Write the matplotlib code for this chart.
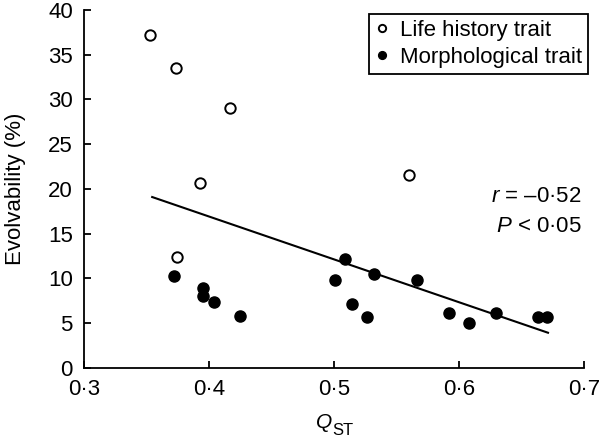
import matplotlib
matplotlib.use("Agg")
import matplotlib.pyplot as plt
from matplotlib.ticker import FuncFormatter

plt.rcParams["font.family"] = ["Liberation Sans", "DejaVu Sans"]
plt.rcParams["mathtext.fontset"] = "custom"
plt.rcParams["mathtext.it"] = "Liberation Sans:italic"
plt.rcParams["mathtext.rm"] = "Liberation Sans"

# life history traits (open circles)
life_qst = [0.353, 0.3735, 0.4166, 0.3924, 0.374, 0.5598]
life_evol = [37.2, 33.5, 29.0, 20.7, 12.4, 21.6]

# morphological traits (filled circles)
morph_qst = [0.372, 0.395, 0.395, 0.404, 0.425, 0.501, 0.5085, 0.514, 0.526,
             0.5316, 0.5665, 0.592, 0.608, 0.629, 0.663, 0.670]
morph_evol = [10.3, 8.9, 8.0, 7.4, 5.8, 9.8, 12.2, 7.1, 5.65,
              10.5, 9.8, 6.2, 5.05, 6.2, 5.7, 5.7]

# regression line end points
fit_qst = [0.3545, 0.6709]
fit_evol = [19.1, 3.94]

fig = plt.figure(figsize=(6, 4.41), dpi=100)
ax = fig.add_axes([0.14, 0.1655, 0.834, 0.812])

ax.plot(fit_qst, fit_evol, color="black", lw=1.5, zorder=1)
ax.plot(life_qst, life_evol, "o", ms=7.5, mfc="white", mec="black", mew=1.4,
        label="Life history trait", zorder=2)
ax.plot(morph_qst, morph_evol, "o", ms=8, mfc="black", mec="black",
        label="Morphological trait", zorder=2)

ax.set_xlim(0.3, 0.7)
ax.set_ylim(0, 40)
ax.set_xticks([0.3, 0.4, 0.5, 0.6, 0.7])
ax.set_yticks(range(0, 41, 5))
ax.xaxis.set_major_formatter(FuncFormatter(lambda v, p: f"{v:.1f}".replace(".", "\u00b7")))

for s in ["top", "right"]:
    ax.spines[s].set_visible(False)
for s in ["left", "bottom"]:
    ax.spines[s].set_linewidth(1.3)
ax.tick_params(direction="in", length=5, width=1.3, labelsize=16)
ax.tick_params(axis="x", pad=8)
ax.tick_params(axis="y", pad=8)

ax.set_ylabel("Evolvability (%)", fontsize=16, labelpad=16)

# x label: italic Q with a large-ish "ST" subscript
fig.text(0.554, 0.029, "Q", fontsize=15, style="italic", ha="right")
fig.text(0.554, 0.0136, "ST", fontsize=12, ha="left")

ax.text(0.698, 18.5, "$r$ = \u20130\u00b752", fontsize=16, ha="right")
ax.text(0.698, 15.15, "$P$ < 0\u00b705", fontsize=16, ha="right")

leg = ax.legend(loc="upper right", fontsize=16, markerscale=0.7, handlelength=0.6,
                handletextpad=0.5, borderpad=0.3, labelspacing=0.25,
                borderaxespad=0, fancybox=False, edgecolor="black", framealpha=1,
                bbox_to_anchor=(1.008, 0.99))
leg.get_frame().set_linewidth(1.3)

plt.savefig("out.png", dpi=100)
plt.close()
